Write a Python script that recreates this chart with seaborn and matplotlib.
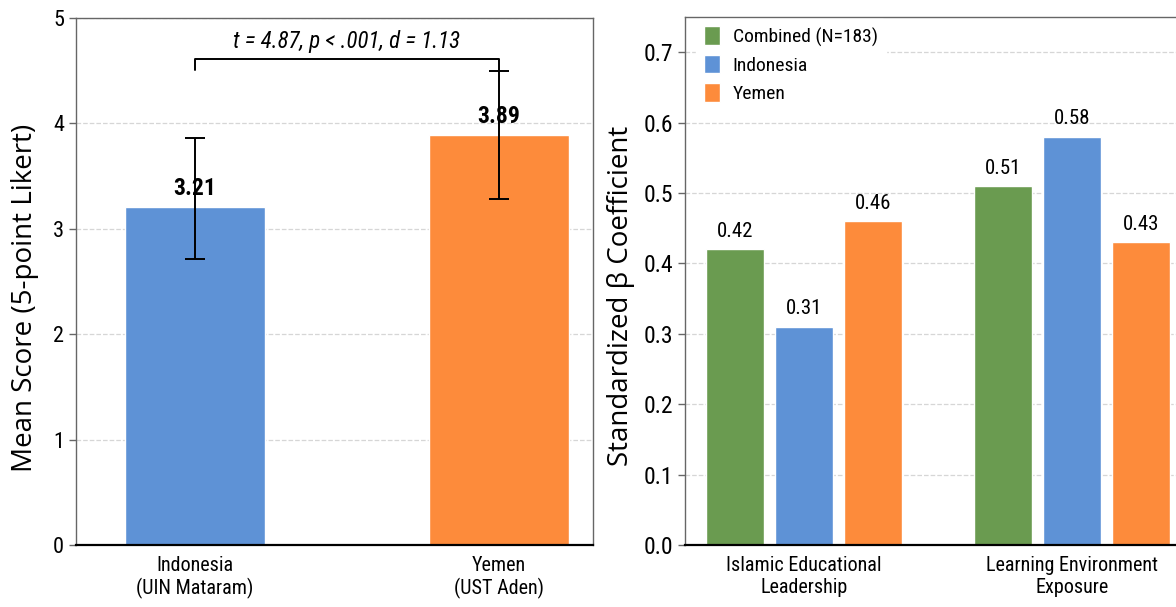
import numpy as np
import pandas as pd
import matplotlib
matplotlib.use("Agg")
import matplotlib.pyplot as plt
import seaborn as sns
from matplotlib import font_manager

# =========================
# DATA
# =========================
countries = ["Indonesia\n(UIN Mataram)", "Yemen\n(UST Aden)"]
mean_scores = [3.21, 3.89]
ci_low = [2.71, 3.28]
ci_high = [3.86, 4.50]
stat_text = "t = 4.87, p < .001, d = 1.13"

predictors = ["Islamic Educational\nLeadership", "Learning Environment\nExposure"]
groups = ["Combined (N=183)", "Indonesia", "Yemen"]
beta_combined = [0.42, 0.51]
beta_indonesia = [0.31, 0.58]
beta_yemen = [0.46, 0.43]

# =========================
# STYLE
# =========================
sns.set_theme(style="white")
installed = {f.name for f in font_manager.fontManager.ttflist}
narrow = [f for f in ["Roboto Condensed", "Open Sans Condensed", "Liberation Sans Narrow"]
          if f in installed]
plt.rcParams['font.family'] = narrow + ['DejaVu Sans']
plt.rcParams['text.color'] = 'black'
plt.rcParams['axes.labelcolor'] = 'black'
plt.rcParams['xtick.color'] = 'black'
plt.rcParams['ytick.color'] = 'black'

# DejaVu is wider than the condensed face in the reference -> shrink a bit
k = 1.0 if narrow else 0.88
label_font = ["Open Sans", "DejaVu Sans"]

blue = "#5E92D6"
orange = "#FD8B3B"
green = "#6A9B50"

fig = plt.figure(figsize=(11.76, 6.07), dpi=100)
ax1 = fig.add_axes([76 / 1176, 62 / 607, 517 / 1176, 527 / 607])
ax2 = fig.add_axes([685 / 1176, 62 / 607, 506 / 1176, 528 / 607])

# =========================
# LEFT: MEAN SCORES
# =========================
df_left = pd.DataFrame({"country": countries, "score": mean_scores})

sns.barplot(data=df_left, x="country", y="score", hue="country",
            palette=[blue, orange], width=0.46, saturation=1,
            legend=False, ax=ax1, zorder=2)

xpos = np.arange(len(countries))
yerr = [np.array(mean_scores) - np.array(ci_low),
        np.array(ci_high) - np.array(mean_scores)]
ax1.errorbar(xpos, mean_scores, yerr=yerr, fmt="none", ecolor="black",
             elinewidth=1.4, capsize=7, capthick=1.4, zorder=3)

for i, v in enumerate(mean_scores):
    ax1.annotate(f"{v:.2f}", (i, v), xytext=(0, 5), textcoords="offset points",
                 ha="center", va="bottom", fontsize=17 * k, fontweight="bold", zorder=4)

# significance bracket
ax1.plot([0, 0, 1, 1], [4.51, 4.61, 4.61, 4.50], color="black", lw=1.4, zorder=3)
ax1.text(0.5, 4.67, stat_text, ha="center", va="bottom", fontsize=16.5 * k, style="italic")

ax1.set_ylim(0, 5)
ax1.set_xlim(-0.39, 1.31)
ax1.set_yticks(range(6))
ax1.set_xlabel("")
ax1.set_ylabel("Mean Score (5-point Likert)", fontsize=20, family=label_font)
ax1.yaxis.set_label_coords(-0.072, 0.469)

# =========================
# RIGHT: REGRESSION COEFFICIENTS
# =========================
df_right = pd.DataFrame({
    "predictor": predictors * 3,
    "group": [g for g in groups for _ in predictors],
    "beta": beta_combined + beta_indonesia + beta_yemen,
})

sns.barplot(data=df_right, x="predictor", y="beta", hue="group",
            palette=[green, blue, orange], width=0.7725, gap=0.146,
            saturation=1, ax=ax2, zorder=2)

for cont in ax2.containers:
    ax2.bar_label(cont, fmt="%.2f", padding=6, fontsize=15 * k)

ax2.set_ylim(0, 0.75)
ax2.set_xlim(-0.444, 1.444)
ax2.set_yticks(np.arange(0, 0.71, 0.1))
ax2.set_xlabel("")
ax2.set_ylabel("Standardized β Coefficient", fontsize=20, family=label_font)
ax2.yaxis.set_label_coords(-0.098, 0.472)

ax2.legend(loc="upper left", bbox_to_anchor=(0.01, 1.008), frameon=True,
           facecolor="white", edgecolor="white", framealpha=1, fontsize=14 * k,
           handlelength=0.85, handleheight=1.1, handletextpad=0.65,
           labelspacing=0.42, borderaxespad=0.3)

# =========================
# AXES COSMETICS
# =========================
for ax, fs in [(ax1, 16), (ax2, 17)]:
    ax.set_axisbelow(True)
    ax.yaxis.grid(True, linestyle="--", color="#cccccc", linewidth=0.9, alpha=0.8)
    for side in ["top", "right", "left"]:
        ax.spines[side].set_color("#666666")
        ax.spines[side].set_linewidth(1.0)
    ax.spines["bottom"].set_color("black")
    ax.spines["bottom"].set_linewidth(1.6)
    ax.tick_params(axis="y", labelsize=fs * k, length=5, width=1, color="#666666", left=True)
    ax.tick_params(axis="x", labelsize=14.5 * k, length=0, pad=8)

fig.savefig("out.png", dpi=100)
